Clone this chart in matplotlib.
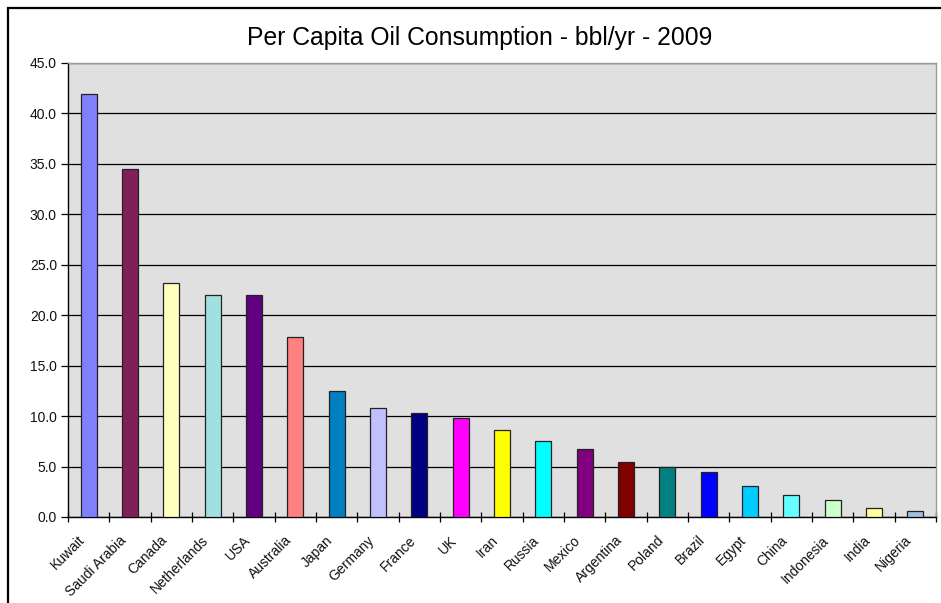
import matplotlib
matplotlib.use("Agg")
import matplotlib.pyplot as plt
from matplotlib.patches import Rectangle
from matplotlib.transforms import offset_copy
import numpy as np

countries = ["Kuwait", "Saudi Arabia", "Canada", "Netherlands", "USA", "Australia",
             "Japan", "Germany", "France", "UK", "Iran", "Russia", "Mexico",
             "Argentina", "Poland", "Brazil", "Egypt", "China", "Indonesia",
             "India", "Nigeria"]
consumption = [41.9, 34.5, 23.2, 22.0, 22.0, 17.8, 12.5, 10.8, 10.3, 9.8, 8.6,
               7.5, 6.7, 5.5, 5.0, 4.5, 3.1, 2.2, 1.7, 0.9, 0.6]
bar_colors = ["#8080FF", "#7F2059", "#FFFFC0", "#A0E0E0", "#600080", "#FF8080",
              "#0080C0", "#C0C0FF", "#000080", "#FF00FF", "#FFFF00", "#00FFFF",
              "#800080", "#800000", "#008080", "#0000FF", "#00CCFF", "#66FFFF",
              "#CCFFCC", "#FFFF99", "#A0C0E0"]
y_ticks = np.arange(0, 45.1, 5.0)

plt.rcParams["font.family"] = ["Liberation Sans", "DejaVu Sans"]

W, H = 941, 603
fig = plt.figure(figsize=(W / 100, H / 100), dpi=100)
fig.patch.set_facecolor("white")

# outer chart frame (runs off the right and bottom edges)
fig.patches.append(Rectangle((8 / W, -0.05), 1.1, 1 - 8 / H + 0.05,
                             transform=fig.transFigure, fill=False,
                             edgecolor="black", linewidth=1.6))

ax = fig.add_axes([68 / W, 1 - 517 / H, (936 - 68) / W, (517 - 63) / H])
ax.set_facecolor("#E0E0E0")

x = np.arange(len(countries))
ax.bar(x, consumption, width=0.38, color=bar_colors, edgecolor="#222222",
       linewidth=0.9, zorder=3)

ax.set_xlim(-0.5, len(countries) - 0.5)
ax.set_ylim(0, 45)
ax.set_yticks(y_ticks)
ax.set_yticklabels([f"{v:.1f}" for v in y_ticks], fontsize=10, color="#111111")
ax.yaxis.grid(True, color="black", linewidth=0.9, zorder=1)
ax.set_axisbelow(True)

ax.set_xticks(np.arange(-0.5, len(countries) + 0.5, 1.0))
ax.set_xticklabels([])
ax.tick_params(axis="x", direction="inout", length=7, width=0.9, color="black")
ax.tick_params(axis="y", direction="out", length=5, width=0.9, color="black", pad=3)

for s in ["top", "right"]:
    ax.spines[s].set_color("#999999")
    ax.spines[s].set_linewidth(1.0)
for s in ["left", "bottom"]:
    ax.spines[s].set_color("black")
    ax.spines[s].set_linewidth(1.0)

# rotated category labels
base = ax.get_xaxis_transform()
lab_tr = offset_copy(base, fig=fig, x=-6, y=-21, units="dots")
for i, name in enumerate(countries):
    ax.text(i, 0, name, transform=lab_tr, rotation=45, rotation_mode="anchor",
            ha="right", va="center", fontsize=10, color="#111111")

fig.text(480 / W, 1 - 38 / H, "Per Capita Oil Consumption - bbl/yr - 2009",
         ha="center", va="center", fontsize=17.8, color="black")

fig.savefig("out.png", dpi=100)
